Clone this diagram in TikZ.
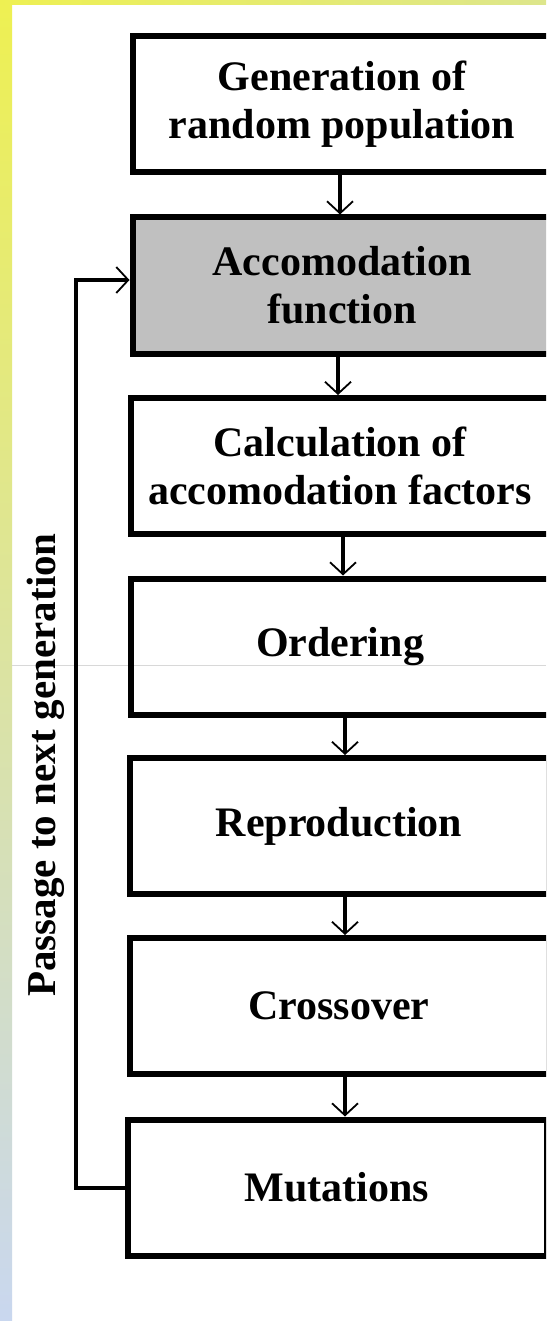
\documentclass[tikz,border=0pt]{standalone}
\usepackage{fontspec}
\setmainfont{Liberation Serif}
\usetikzlibrary{arrows.meta,calc}
\definecolor{bgyellow}{HTML}{EEF052}
\definecolor{bgyellowr}{HTML}{DDE68C}
\definecolor{bgmid}{HTML}{D3DCC4}
\definecolor{bgblue}{HTML}{C9D7EF}
\definecolor{boxgray}{HTML}{C0C0C0}
\definecolor{faint}{HTML}{D8D8D8}
\begin{document}
\begin{tikzpicture}[x=1pt,y=1pt,
  stagebox/.style={draw=black, line width=6pt, minimum width=419pt, minimum height=136pt,
    inner sep=0pt, align=center, font=\fontsize{42}{48}\selectfont\bfseries},
  tipstyle/.style={-{Straight Barb[length=12pt,width=26pt,line width=1.8pt]}},
  conn/.style={line width=4pt, tipstyle},
  sidelabel/.style={rotate=90, anchor=base, font=\fontsize{41}{48}\selectfont\bfseries}]
\path[use as bounding box] (0,0) rectangle (546,-1321);
\clip (0,0) rectangle (546,-1321);
% background decoration
\fill[white] (0,0) rectangle (546,-1321);
\shade[top color=bgyellow, middle color=bgmid, bottom color=bgblue] (0,0) rectangle (12,-1321);
\shade[left color=bgyellow, right color=bgyellowr] (0,0) rectangle (546,-5);
\draw[faint, line width=1pt] (12,-665) -- (546,-665);
% boxes
\node[stagebox] (b1) at (342,-104.5) {Generation of\\random population};
\node[stagebox, fill=boxgray] (b2) at (342,-285.5) {Accomodation\\function};
\node[stagebox] (b3) at (340,-466) {Calculation of\\accomodation factors};
\node[stagebox] (b4) at (340,-646.5) {Ordering};
\node[stagebox] (b5) at (339,-826) {Reproduction};
\node[stagebox] (b6) at (339,-1006) {Crossover};
\node[stagebox] (b7) at (337,-1187.5) {Mutations};
% connectors
\draw[conn] ([xshift=-2pt]b1.south) -- ([xshift=-2pt]b1.south |- b2.north);
\draw[conn] ([xshift=-4pt]b2.south) -- ([xshift=-4pt]b2.south |- b3.north);
\draw[conn] ([xshift=3pt]b3.south) -- ([xshift=3pt]b3.south |- b4.north);
\draw[conn] ([xshift=5pt]b4.south) -- ([xshift=5pt]b4.south |- b5.north);
\draw[conn] ([xshift=6pt]b5.south) -- ([xshift=6pt]b5.south |- b6.north);
\draw[conn] ([xshift=6pt]b6.south) -- ([xshift=6pt]b6.south |- b7.north);
% loop back
\coordinate (lp) at (76,-280);
\draw[conn] (b7.west) -| (lp) -- (lp -| b2.west);
\node[sidelabel] (lbl) at (55,-765) {Passage to next generation};
\end{tikzpicture}
\end{document}
